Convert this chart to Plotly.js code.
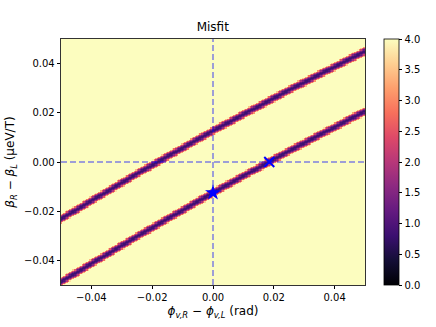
<!DOCTYPE html>
<html>
<head>
<meta charset="utf-8">
<script src="https://cdn.plot.ly/plotly-3.0.1.min.js"></script>
<style>
  body { margin: 0; background: #fff; }
  #chart { width: 436px; height: 327px; }
</style>
</head>
<body>
<div id="chart"></div>
<script>
// valley positions
var curveX = [-0.05, -0.025, 0, 0.025, 0.05];
var upperY = [-0.0232, -0.0048, 0.0127, 0.0293, 0.0451];
var lowerY = [-0.0488, -0.0303, -0.0125, 0.0045, 0.0207];

var valleyMin = 0.8;
var misfitMax = 4;
var halfWidth = 0.002;

var starPoint = {x: [0], y: [-0.0125]};
var crossPoint = {x: [0.0185], y: [0]};

var colorTicks = [0, 0.5, 1, 1.5, 2, 2.5, 3, 3.5, 4];
var xTicks = [-0.04, -0.02, 0, 0.02, 0.04];
var yTicks = [-0.04, -0.02, 0, 0.02, 0.04];

var magma = [
    [0.0, '#000004'], [0.1, '#140e36'], [0.2, '#3b0f70'], [0.3, '#641a80'],
    [0.4, '#8c2981'], [0.5, '#b73779'], [0.6, '#de4968'], [0.7, '#f7705c'],
    [0.8, '#fe9f6d'], [0.9, '#fecf92'], [1.0, '#fcfdbf']
];

var valleyAt = function (xs, ys, x) {
    for (var i = 0; i < xs.length - 1; i++) {
        if (x <= xs[i + 1] || i == xs.length - 2) {
            var t = (x - xs[i]) / (xs[i + 1] - xs[i]);
            return ys[i] + t * (ys[i + 1] - ys[i]);
        }
    }
};

var n = 200;
var gx = [], gy = [], z = [];
for (var i = 0; i < n; i++) {
    gx.push(-0.05 + 0.1 * i / (n - 1));
    gy.push(-0.05 + 0.1 * i / (n - 1));
}
for (var j = 0; j < n; j++) {
    var row = [];
    for (var i = 0; i < n; i++) {
        var d1 = Math.abs(gy[j] - valleyAt(curveX, upperY, gx[i]));
        var d2 = Math.abs(gy[j] - valleyAt(curveX, lowerY, gx[i]));
        var d = Math.min(d1, d2) / halfWidth;
        row.push(Math.min(misfitMax, valleyMin + (misfitMax - valleyMin) * d * d));
    }
    z.push(row);
}

var heat = {
    type: 'heatmap',
    x: gx,
    y: gy,
    z: z,
    zmin: 0,
    zmax: 4,
    colorscale: magma,
    hoverinfo: 'skip',
    colorbar: {
        x: 0.885,
        xanchor: 'left',
        xpad: 0,
        y: 0.5,
        yanchor: 'middle',
        len: 1,
        ypad: 0,
        thickness: 15,
        outlinewidth: 0.8,
        outlinecolor: '#000',
        ticks: 'outside',
        ticklen: 3.5,
        tickcolor: '#000',
        tickvals: colorTicks,
        tickformat: '.1f',
        tickfont: {size: 10}
    }
};

var star = {
    type: 'scatter',
    mode: 'markers',
    x: starPoint.x,
    y: starPoint.y,
    marker: {symbol: 'star', size: 12, color: '#0000ff'},
    showlegend: false
};

var cross = {
    type: 'scatter',
    mode: 'markers',
    x: crossPoint.x,
    y: crossPoint.y,
    marker: {symbol: 'x-thin-open', size: 10, color: '#0000ff', line: {width: 2, color: '#0000ff'}},
    showlegend: false
};

var dashLine = {color: 'rgba(0,0,255,0.5)', width: 1.5, dash: '6px,3px'};

var layout = {
    width: 436,
    height: 327,
    margin: {l: 61, r: 10, t: 39, b: 42},
    paper_bgcolor: '#fff',
    plot_bgcolor: '#fff',
    font: {family: 'DejaVu Sans', size: 10, color: '#000'},
    title: {text: 'Misfit', font: {size: 12}, x: 0.488, xanchor: 'center', y: 0.917, yanchor: 'middle'},
    showlegend: false,
    xaxis: {
        domain: [0, 0.8329],
        range: [-0.05, 0.05],
        tickvals: xTicks,
        tickformat: '.2f',
        ticks: 'outside',
        ticklen: 3.5,
        tickcolor: '#000',
        showline: true,
        mirror: true,
        linecolor: '#000',
        linewidth: 0.8,
        showgrid: false,
        zeroline: false,
        title: {text: '<i>ϕ</i><sub><i>v,R</i></sub> − <i>ϕ</i><sub><i>v,L</i></sub> (rad)', standoff: 4}
    },
    yaxis: {
        range: [-0.05, 0.05],
        tickvals: yTicks,
        tickformat: '.2f',
        ticks: 'outside',
        ticklen: 3.5,
        tickcolor: '#000',
        showline: true,
        mirror: true,
        linecolor: '#000',
        linewidth: 0.8,
        showgrid: false,
        zeroline: false,
        title: {text: '<i>β</i><sub><i>R</i></sub> − <i>β</i><sub><i>L</i></sub> (μeV/T)', standoff: 6}
    },
    shapes: [
        {type: 'line', xref: 'x', yref: 'paper', x0: 0, x1: 0, y0: 0, y1: 1, line: dashLine},
        {type: 'line', xref: 'x', yref: 'y', x0: -0.05, x1: 0.05, y0: 0, y1: 0, line: dashLine}
    ]
};

Plotly.newPlot('chart', [heat, star, cross], layout, {displayModeBar: false, staticPlot: true});
</script>
</body>
</html>
